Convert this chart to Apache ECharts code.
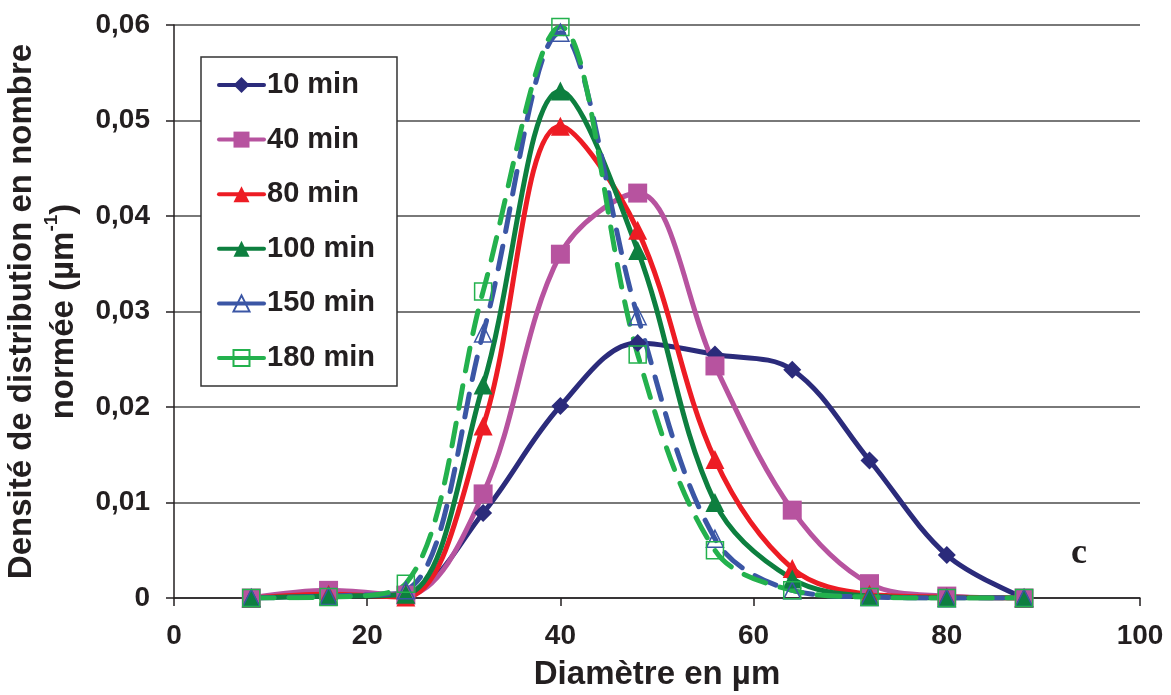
<!DOCTYPE html>
<html>
<head>
<meta charset="utf-8">
<script src="https://cdn.jsdelivr.net/npm/echarts@6/dist/echarts.min.js"></script>
<style>
html,body{margin:0;padding:0;background:#fff;}
#chart{width:1171px;height:695px;}
</style>
</head>
<body>
<div id="chart"></div>
<script>
// Diameters (µm)
const diameters = [8, 16, 24, 32, 40, 48, 56, 64, 72, 80, 88];
// Normalized number density (µm^-1)
const min10  = [0, 0.0003, 0.0005, 0.0089, 0.0201, 0.0267, 0.0255, 0.0239, 0.0144, 0.0045, 0];
const min40  = [0, 0.0008, 0.0003, 0.0109, 0.0360, 0.0424, 0.0243, 0.0092, 0.0015, 0.0002, 0];
const min80  = [0, 0.0004, 0.0001, 0.0180, 0.0494, 0.0385, 0.0145, 0.0031, 0.0004, 0.0001, 0];
const min100 = [0, 0.0002, 0.0004, 0.0223, 0.0531, 0.0364, 0.0100, 0.0020, 0.0002, 0, 0];
const min150 = [0, 0.0002, 0.0008, 0.0277, 0.0592, 0.0295, 0.0062, 0.0008, 0.0001, 0, 0];
const min180 = [0, 0.0001, 0.0015, 0.0321, 0.0598, 0.0255, 0.0050, 0.0008, 0.0001, 0, 0];
const seriesNames = ['10 min', '40 min', '80 min', '100 min', '150 min', '180 min'];
const xTicks = [0, 20, 40, 60, 80, 100];
const yTicks = [0, 0.01, 0.02, 0.03, 0.04, 0.05, 0.06];

const pairs = arr => diameters.map((d, i) => [d, arr[i]]);
const FONT = '"Liberation Sans", Arial, sans-serif';

const diamond = 'path://M0,-1L1,0L0,1L-1,0Z';

function mk(name, data, color, symbol, size, dashed, hollow) {
  return {
    name: name,
    type: 'line',
    data: pairs(data),
    smooth: 0.35,
    symbol: symbol,
    symbolSize: size,
    lineStyle: { color: color, width: 5, type: dashed ? [23, 15] : 'solid', cap: 'round' },
    itemStyle: hollow
      ? { color: 'rgba(255,255,255,0)', borderColor: color, borderWidth: 1.5 }
      : { color: color, borderWidth: 0 },
    emphasis: { disabled: true },
    z: 2
  };
}

const chart = echarts.init(document.getElementById('chart'), null, { renderer: 'canvas' });
chart.setOption({
  animation: false,
  backgroundColor: '#ffffff',
  grid: { left: 174, right: 31, top: 25, bottom: 97, containLabel: false, outerBoundsMode: 'none' },
  xAxis: {
    type: 'value',
    min: xTicks[0], max: xTicks[xTicks.length - 1], interval: 20,
    name: 'Diamètre en µm',
    nameLocation: 'middle',
    nameGap: 60,
    nameTextStyle: { fontFamily: FONT, fontWeight: 'bold', fontSize: 33, color: '#231f20' },
    axisLine: { lineStyle: { color: '#231f20', width: 1.5 } },
    axisTick: { show: true, inside: false, length: 8, lineStyle: { color: '#231f20', width: 1.5 } },
    axisLabel: { fontFamily: FONT, fontWeight: 'bold', fontSize: 28, color: '#231f20', margin: 24 },
    splitLine: { show: false }
  },
  yAxis: {
    type: 'value',
    min: yTicks[0], max: yTicks[yTicks.length - 1], interval: 0.01,
    name: 'Densité de distribution en nombre\nnormée (µm{sup|-1})',
    nameLocation: 'middle',
    nameRotate: 90,
    nameGap: 84,
    nameTextStyle: {
      fontFamily: FONT, fontWeight: 'bold', fontSize: 33, color: '#231f20', lineHeight: 42, align: 'center',
      rich: { sup: { fontFamily: FONT, fontWeight: 'bold', fontSize: 19, color: '#231f20', verticalAlign: 'top', padding: [0, 0, 15, 0] } }
    },
    axisLine: { show: true, lineStyle: { color: '#231f20', width: 1.5 } },
    axisTick: { show: true, inside: false, length: 8, lineStyle: { color: '#231f20', width: 1.5 } },
    axisLabel: {
      fontFamily: FONT, fontWeight: 'bold', fontSize: 28, color: '#231f20', margin: 24,
      formatter: v => v === 0 ? '0' : v.toFixed(2).replace('.', ',')
    },
    splitLine: { show: true, lineStyle: { color: '#4d4d4d', width: 1.5 } }
  },
  legend: {
    orient: 'vertical',
    left: 201, top: 57,
    padding: [13, 22, 13, 16],
    itemWidth: 45, itemHeight: 20,
    itemGap: 24.6,
    borderColor: '#333333', borderWidth: 1.5,
    backgroundColor: '#ffffff',
    lineStyle: { type: 'solid', width: 4 },
    textStyle: { fontFamily: FONT, fontWeight: 'bold', fontSize: 29, color: '#231f20', lineHeight: 30, padding: [0, 0, 0, -2] },
    data: seriesNames
  },
  series: [
    mk(seriesNames[0], min10, '#2b2b7b', diamond, 18, false, false),
    mk(seriesNames[1], min40, '#b7539f', 'rect', 19, false, false),
    mk(seriesNames[2], min80, '#ed1c24', 'triangle', 19, false, false),
    mk(seriesNames[3], min100, '#0d7f3f', 'triangle', 19, false, false),
    mk(seriesNames[4], min150, '#3b56a5', 'triangle', 17, true, true),
    mk(seriesNames[5], min180, '#23b14d', 'rect', 17, true, true)
  ],
  graphic: [{
    type: 'text',
    left: 1071, top: 536,
    style: { text: 'c', fontFamily: '"Liberation Serif", "Times New Roman", serif', fontWeight: 'bold', fontSize: 36, fill: '#231f20' }
  }]
});
</script>
</body>
</html>
